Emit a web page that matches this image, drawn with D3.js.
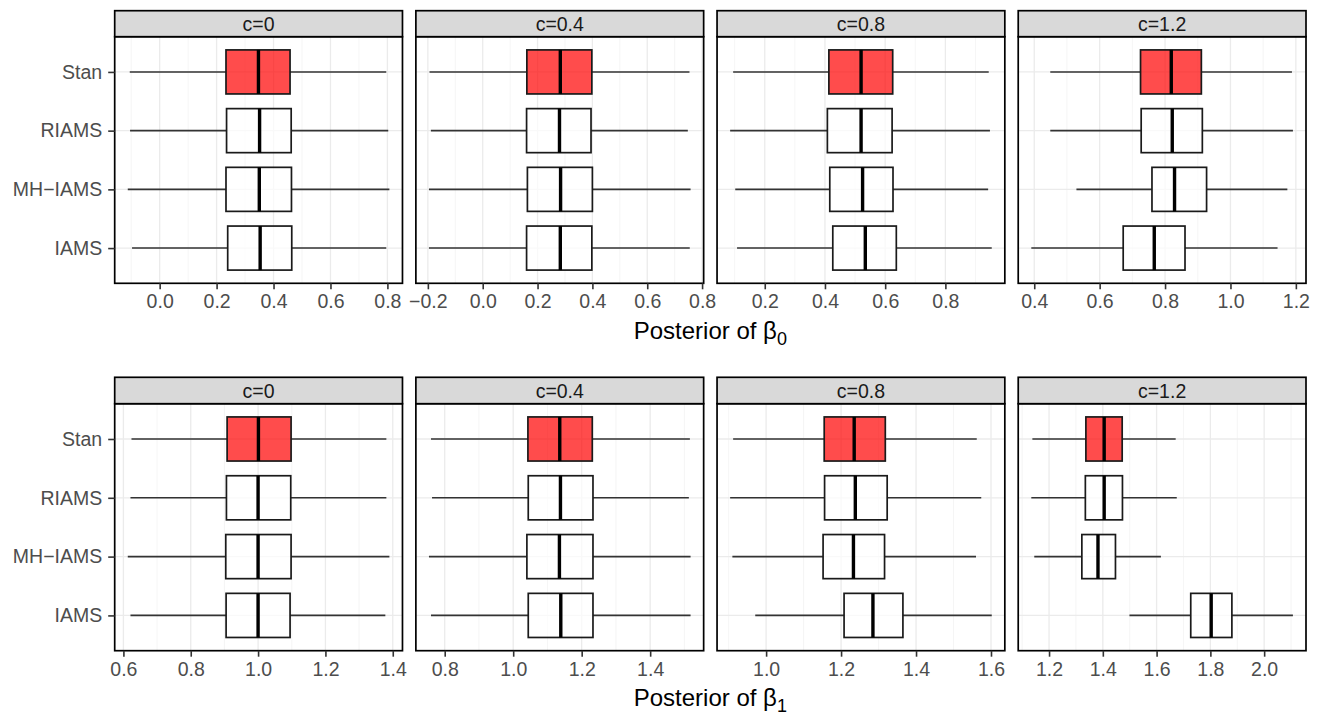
<!DOCTYPE html>
<html>
<head>
<meta charset="utf-8">
<script src="https://cdn.jsdelivr.net/npm/d3@7"></script>
<style>
  html, body { margin: 0; padding: 0; background: #fff; }
  svg { display: block; font-family: "Liberation Sans", Arial, Helvetica, sans-serif; }
</style>
</head>
<body>
<svg id="chart" width="1322" height="716"></svg>
<script>
// Methods (top to bottom) and facet labels
const methods = ["Stan", "RIAMS", "MH\u2212IAMS", "IAMS"];
const cLabels = ["c=0", "c=0.4", "c=0.8", "c=1.2"];
const fillColors = ["#ff0000", "#ffffff", "#ffffff", "#ffffff"];

// Box summaries per method: [lower whisker, Q1, median, Q3, upper whisker]
// Posterior of beta0
const beta0_c0  = [[-0.105, 0.233, 0.347, 0.458, 0.796],
                   [-0.104, 0.235, 0.351, 0.462, 0.803],
                   [-0.112, 0.233, 0.350, 0.463, 0.807],
                   [-0.097, 0.239, 0.353, 0.464, 0.796]];
const beta0_c04 = [[-0.194, 0.161, 0.283, 0.398, 0.754],
                   [-0.189, 0.160, 0.280, 0.395, 0.748],
                   [-0.196, 0.163, 0.284, 0.400, 0.758],
                   [-0.196, 0.160, 0.283, 0.398, 0.755]];
const beta0_c08 = [[0.095, 0.413, 0.520, 0.625, 0.944],
                   [0.085, 0.408, 0.520, 0.623, 0.948],
                   [0.102, 0.416, 0.525, 0.626, 0.942],
                   [0.108, 0.426, 0.534, 0.637, 0.954]];
const beta0_c12 = [[0.449, 0.725, 0.819, 0.911, 1.188],
                   [0.449, 0.727, 0.822, 0.914, 1.191],
                   [0.529, 0.760, 0.829, 0.927, 1.174],
                   [0.391, 0.672, 0.767, 0.861, 1.144]];
// Posterior of beta1
const beta1_c0  = [[0.624, 0.908, 1.001, 1.098, 1.381],
                   [0.621, 0.906, 1.000, 1.097, 1.381],
                   [0.613, 0.904, 1.000, 1.098, 1.390],
                   [0.621, 0.905, 1.000, 1.095, 1.378]];
const beta1_c04 = [[0.760, 1.043, 1.136, 1.231, 1.516],
                   [0.763, 1.044, 1.138, 1.233, 1.513],
                   [0.754, 1.040, 1.135, 1.233, 1.518],
                   [0.760, 1.044, 1.139, 1.233, 1.518]];
const beta1_c08 = [[0.912, 1.155, 1.235, 1.318, 1.562],
                   [0.904, 1.156, 1.238, 1.323, 1.574],
                   [0.910, 1.152, 1.233, 1.316, 1.560],
                   [0.971, 1.208, 1.285, 1.365, 1.602]];
const beta1_c12 = [[1.138, 1.337, 1.405, 1.472, 1.671],
                   [1.134, 1.335, 1.405, 1.473, 1.675],
                   [1.145, 1.322, 1.382, 1.447, 1.616],
                   [1.499, 1.727, 1.803, 1.880, 2.107]];

// Axis tick values per facet
const beta0Ticks = [[0.0, 0.2, 0.4, 0.6, 0.8],
                    [-0.2, 0.0, 0.2, 0.4, 0.6, 0.8],
                    [0.2, 0.4, 0.6, 0.8],
                    [0.4, 0.6, 0.8, 1.0, 1.2]];
const beta1Ticks = [[0.6, 0.8, 1.0, 1.2, 1.4],
                    [0.8, 1.0, 1.2, 1.4],
                    [1.0, 1.2, 1.4, 1.6],
                    [1.2, 1.4, 1.6, 1.8, 2.0]];

const rows = [
  { sub: "0", stats: [beta0_c0, beta0_c04, beta0_c08, beta0_c12], ticks: beta0Ticks,
    stripTop: 10.7, panelTop: 36.7, panelBottom: 283.3, titleY: 339 },
  { sub: "1", stats: [beta1_c0, beta1_c04, beta1_c08, beta1_c12], ticks: beta1Ticks,
    stripTop: 377.3, panelTop: 403.7, panelBottom: 650.7, titleY: 705.5 }
];

const svg = d3.select("#chart");
const plotLeft = 114.7, plotRight = 1306, gap = 13.4;
const panelW = (plotRight - plotLeft - 3 * gap) / 4;
const fmt = d3.format(".1f");

rows.forEach((row, ri) => {
  const y = d3.scalePoint().domain(methods)
    .range([row.panelTop, row.panelBottom]).padding(0.6);
  const boxH = y.step() * 0.75;

  row.stats.forEach((stats, ci) => {
    const x0 = plotLeft + ci * (panelW + gap);
    const lo = d3.min(stats, d => d[0]), hi = d3.max(stats, d => d[4]);
    const pad = (hi - lo) * 0.05;
    const x = d3.scaleLinear().domain([lo - pad, hi + pad]).range([x0, x0 + panelW]);
    const ticks = row.ticks[ci];
    const step = ticks[1] - ticks[0];
    const [dmin, dmax] = x.domain();
    const minor = d3.range(ticks[0] - step / 2, ticks[ticks.length - 1] + step, step)
      .filter(v => v >= dmin && v <= dmax);

    const g = svg.append("g");
    const h = row.panelBottom - row.panelTop;

    g.append("rect").attr("x", x0).attr("y", row.panelTop)
      .attr("width", panelW).attr("height", h).attr("fill", "#fff");

    // grid
    g.selectAll(".minor").data(minor).join("line")
      .attr("x1", d => x(d)).attr("x2", d => x(d))
      .attr("y1", row.panelTop).attr("y2", row.panelBottom)
      .attr("stroke", "#f1f1f1").attr("stroke-width", 0.7);
    g.selectAll(".major").data(ticks).join("line")
      .attr("x1", d => x(d)).attr("x2", d => x(d))
      .attr("y1", row.panelTop).attr("y2", row.panelBottom)
      .attr("stroke", "#ebebeb").attr("stroke-width", 1.3);
    g.selectAll(".hgrid").data(methods).join("line")
      .attr("x1", x0).attr("x2", x0 + panelW)
      .attr("y1", d => y(d)).attr("y2", d => y(d))
      .attr("stroke", "#ebebeb").attr("stroke-width", 1.3);

    // boxplots
    stats.forEach((s, mi) => {
      const cy = y(methods[mi]);
      const bg = g.append("g");
      bg.append("line").attr("x1", x(s[0])).attr("x2", x(s[1]))
        .attr("y1", cy).attr("y2", cy).attr("stroke", "#333").attr("stroke-width", 1.6);
      bg.append("line").attr("x1", x(s[3])).attr("x2", x(s[4]))
        .attr("y1", cy).attr("y2", cy).attr("stroke", "#333").attr("stroke-width", 1.6);
      bg.append("rect").attr("x", x(s[1])).attr("y", cy - boxH / 2)
        .attr("width", x(s[3]) - x(s[1])).attr("height", boxH)
        .attr("fill", fillColors[mi]).attr("fill-opacity", 0.7)
        .attr("stroke", "#1a1a1a").attr("stroke-width", 1.7);
      bg.append("line").attr("x1", x(s[2])).attr("x2", x(s[2]))
        .attr("y1", cy - boxH / 2).attr("y2", cy + boxH / 2)
        .attr("stroke", "#000").attr("stroke-width", 3.4);
    });

    // panel border
    g.append("rect").attr("x", x0).attr("y", row.panelTop)
      .attr("width", panelW).attr("height", h)
      .attr("fill", "none").attr("stroke", "#000").attr("stroke-width", 1.7);

    // strip
    g.append("rect").attr("x", x0).attr("y", row.stripTop)
      .attr("width", panelW).attr("height", row.panelTop - row.stripTop)
      .attr("fill", "#d9d9d9").attr("stroke", "#000").attr("stroke-width", 1.7);
    g.append("text").attr("x", x0 + panelW / 2)
      .attr("y", (row.stripTop + row.panelTop) / 2 + 7)
      .attr("text-anchor", "middle").attr("font-size", 19.5).attr("fill", "#1a1a1a")
      .text(cLabels[ci]);

    // x axis
    const xAxis = d3.axisBottom(x).tickValues(ticks)
      .tickFormat(d => fmt(d)).tickSize(6).tickPadding(5);
    const ax = g.append("g").attr("transform", `translate(0,${row.panelBottom})`).call(xAxis);
    ax.select(".domain").remove();
    ax.selectAll(".tick line").attr("stroke", "#333").attr("stroke-width", 1.6);
    ax.selectAll(".tick text").attr("fill", "#4d4d4d").attr("font-size", 19.5)
      .attr("font-family", "Liberation Sans, Arial, sans-serif");

    // y axis on first facet only
    if (ci === 0) {
      const yAxis = d3.axisLeft(y).tickSize(6.5).tickPadding(6);
      const ay = g.append("g").attr("transform", `translate(${x0},0)`).call(yAxis);
      ay.select(".domain").remove();
      ay.selectAll(".tick line").attr("stroke", "#333").attr("stroke-width", 1.6);
      ay.selectAll(".tick text").attr("fill", "#4d4d4d").attr("font-size", 19.5)
        .attr("font-family", "Liberation Sans, Arial, sans-serif");
    }
  });

  // axis title with subscript
  const t = svg.append("text").attr("x", (plotLeft + plotRight) / 2).attr("y", row.titleY)
    .attr("text-anchor", "middle").attr("font-size", 24).attr("fill", "#000");
  t.append("tspan").text("Posterior of \u03B2");
  t.append("tspan").attr("font-size", 18).attr("dy", 6).text(row.sub);
});
</script>
</body>
</html>
